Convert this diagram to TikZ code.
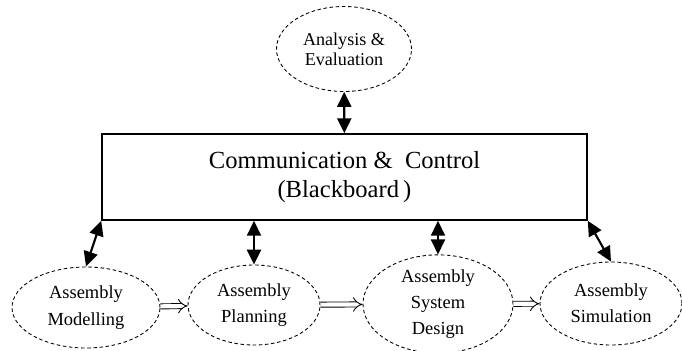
\documentclass[tikz,border=0pt]{standalone}
\usepackage{fontspec}
\setmainfont{Liberation Serif}
\usetikzlibrary{shapes.geometric,arrows.meta}
\tikzset{
  agent/.style={ellipse, draw, dash pattern=on 2pt off 1.5pt, line width=0.5pt, inner sep=0pt,
    align=center, font=\fontsize{10.5}{15}\selectfont},
  link/.style={line width=1.2pt, {Triangle[length=8.5pt,width=8pt]}-{Triangle[length=8.5pt,width=8pt]}},
  flow/.style={double, double distance=2.4pt, line width=0.5pt, -{Implies}}
}
\begin{document}
\begin{tikzpicture}
        \useasboundingbox (0,0) rectangle (13.64,7);
        \node[draw, line width=0.9pt, minimum width=9.7cm, minimum height=1.72cm, align=center,
              font=\fontsize{14}{16.5}\selectfont] (board) at (6.89,3.46) {Communication \&\ \ Control\\(Blackboard\,)};
        \node[agent, minimum width=2.7cm, minimum height=1.7cm, font=\fontsize{10.3}{11.6}\selectfont] (eval) at (6.88,6.02) {Analysis \&\\Evaluation};
        \node[agent, minimum width=2.96cm, minimum height=1.62cm] (mod) at (1.72,0.85) {Assembly\\Modelling};
        \node[agent, minimum width=2.64cm, minimum height=1.6cm] (plan) at (5.08,0.9) {Assembly\\Planning};
        \node[agent, minimum width=3.0cm, minimum height=1.84cm] (sys) at (8.76,0.92) {Assembly\\System\\Design};
        \node[agent, minimum width=2.84cm, minimum height=1.66cm] (sim) at (12.22,0.93) {Assembly\\Simulation};
        % links to the blackboard
        \draw[link] (eval) -- (board);
        \draw[link] (board.south west) -- (mod.north);
        \draw[link] (plan.north |- board.south) -- (plan.north);
        \draw[link] (sys.north |- board.south) -- (sys.north);
        \draw[link] (board.south east) -- (sim.north);
        % process flow
        \draw[flow] (mod) -- (plan);
        \draw[flow] (plan) -- (sys);
        \draw[flow] (sys) -- (sim);
    \end{tikzpicture}
\end{document}
